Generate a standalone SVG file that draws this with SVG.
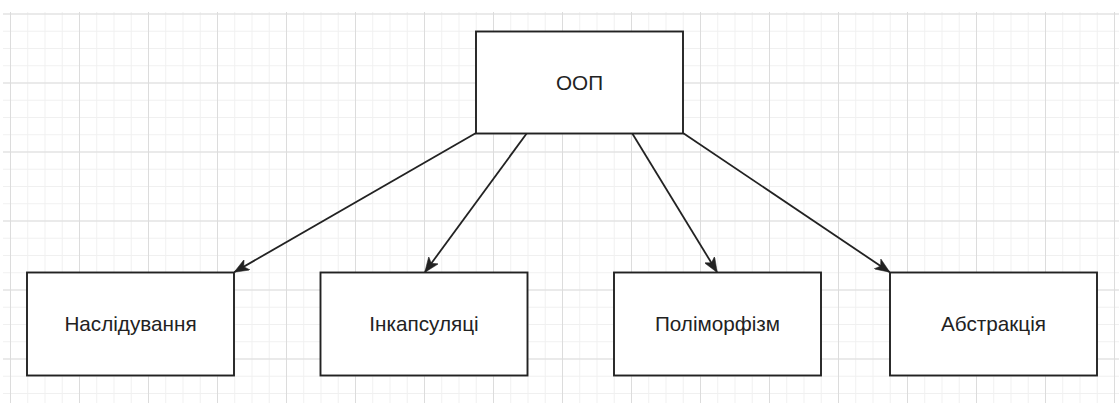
<svg xmlns="http://www.w3.org/2000/svg" width="1119" height="403" viewBox="0 0 1119 403">
  <style>
    .box { fill: #ffffff; stroke: #222222; stroke-width: 1.9; }
    .lbl { font-family: "Liberation Sans", Arial, sans-serif; font-size: 20.7px; fill: #222222; text-anchor: middle; }
    .edge { fill: none; stroke: #222222; stroke-width: 1.8; marker-end: url(#arrow); }
  </style>
  <defs>
    <pattern id="minor" x="10" y="13.5" width="17.25" height="17.25" patternUnits="userSpaceOnUse">
      <path d="M 0 0.5 H 17.25 M 0.5 0 V 17.25" fill="none" stroke="#f0f0f0" stroke-width="1"/>
    </pattern>
    <pattern id="major" x="10" y="13.5" width="69" height="69" patternUnits="userSpaceOnUse">
      <path d="M 0 0.5 H 69 M 0.5 0 V 69" fill="none" stroke="#dcdcdc" stroke-width="1"/>
    </pattern>
    <marker id="arrow" viewBox="0 0 15 12" refX="14.5" refY="6" markerWidth="15" markerHeight="12" markerUnits="userSpaceOnUse" orient="auto">
      <path d="M 15 6 L 0 0 L 3.8 6 L 0 12 Z" fill="#222222" stroke="#222222" stroke-width="0.5"/>
    </marker>
  </defs>
  <rect x="0" y="0" width="1119" height="403" fill="#ffffff"/>
  <rect x="3" y="12" width="1116" height="391" fill="url(#minor)"/>
  <rect x="3" y="12" width="1116" height="391" fill="url(#major)"/>

  <g id="connectors">
    <line class="edge" x1="476" y1="133" x2="234.5" y2="272"/>
    <line class="edge" x1="527" y1="133" x2="425" y2="272"/>
    <line class="edge" x1="632" y1="133" x2="717" y2="272"/>
    <line class="edge" x1="683" y1="133" x2="889.5" y2="272"/>
  </g>

  <g id="node-oop">
    <rect class="box" x="476" y="31.5" width="207" height="102"/>
    <text class="lbl" x="579.5" y="89.5">ООП</text>
  </g>
  <g id="node-inheritance">
    <rect class="box" x="27" y="272.5" width="207" height="103"/>
    <text class="lbl" x="130.5" y="331">Наслідування</text>
  </g>
  <g id="node-encapsulation">
    <rect class="box" x="320.5" y="272.5" width="207" height="103"/>
    <text class="lbl" x="424" y="331">Інкапсуляці</text>
  </g>
  <g id="node-polymorphism">
    <rect class="box" x="614" y="272.5" width="207" height="103"/>
    <text class="lbl" x="717.5" y="331">Поліморфізм</text>
  </g>
  <g id="node-abstraction">
    <rect class="box" x="890" y="272.5" width="207" height="103"/>
    <text class="lbl" x="993.5" y="331">Абстракція</text>
  </g>
</svg>
